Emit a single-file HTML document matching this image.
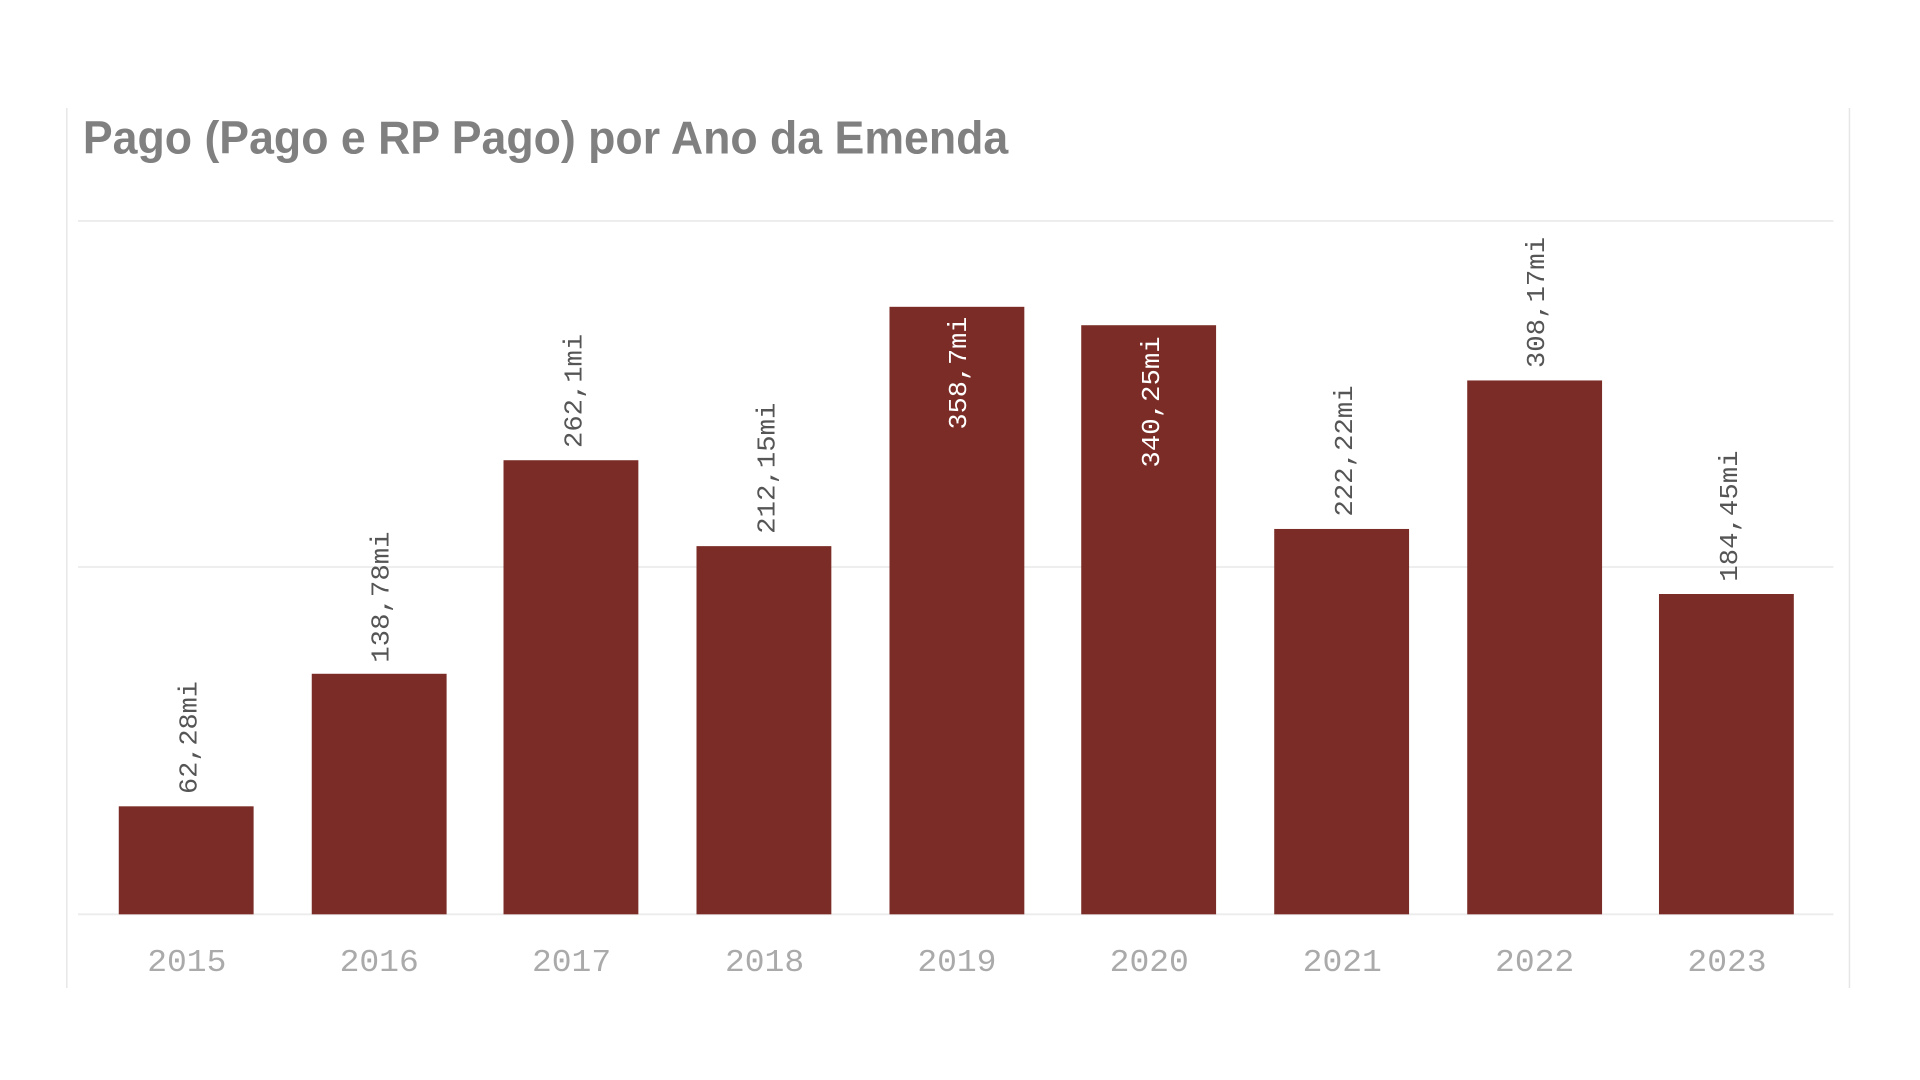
<!DOCTYPE html>
<html><head><meta charset="utf-8"><style>
html,body{margin:0;padding:0;background:#fff;width:1920px;height:1080px;overflow:hidden}
svg{display:block}
</style></head><body>
<svg width="1920" height="1080" viewBox="0 0 1552 880" preserveAspectRatio="none" xmlns="http://www.w3.org/2000/svg">
<rect width="1552" height="880" fill="#fff"/>
<line x1="54" y1="88" x2="54" y2="805" stroke="#e6e6e6" stroke-width="1.2"/>
<line x1="1495" y1="88" x2="1495" y2="805" stroke="#e6e6e6" stroke-width="1.2"/>
<text x="67" y="125" font-family="Liberation Sans, sans-serif" font-weight="bold" font-size="38" fill="#808080" textLength="748" lengthAdjust="spacingAndGlyphs">Pago (Pago e RP Pago) por Ano da Emenda</text>
<g stroke="#ececec" stroke-width="1.5">
<line x1="63" y1="180" x2="1482" y2="180"/>
<line x1="63" y1="462" x2="1482" y2="462"/>
<line x1="63" y1="745" x2="1482" y2="745"/>
</g>
<g fill="#7b2c26">
<rect x="96" y="657" width="109" height="88"/>
<rect x="252" y="549" width="109" height="196"/>
<rect x="407" y="375" width="109" height="370"/>
<rect x="563" y="445" width="109" height="300"/>
<rect x="719" y="250" width="109" height="495"/>
<rect x="874" y="265" width="109" height="480"/>
<rect x="1030" y="431" width="109" height="314"/>
<rect x="1186" y="310" width="109" height="435"/>
<rect x="1341" y="484" width="109" height="261"/>
</g>
<g font-family="Liberation Mono, monospace" font-size="21" fill="#555">
<text transform="translate(159,647) rotate(-90)" textLength="92" lengthAdjust="spacingAndGlyphs">62,28mi</text>
<text transform="translate(314,540) rotate(-90)" textLength="107" lengthAdjust="spacingAndGlyphs">138,78mi</text>
<text transform="translate(470,365) rotate(-90)" textLength="93" lengthAdjust="spacingAndGlyphs">262,1mi</text>
<text transform="translate(626,435) rotate(-90)" textLength="107" lengthAdjust="spacingAndGlyphs">212,15mi</text>
<text transform="translate(781,350) rotate(-90)" fill="#fff" textLength="92" lengthAdjust="spacingAndGlyphs">358,7mi</text>
<text transform="translate(937,381) rotate(-90)" fill="#fff" textLength="107" lengthAdjust="spacingAndGlyphs">340,25mi</text>
<text transform="translate(1093,421) rotate(-90)" textLength="107" lengthAdjust="spacingAndGlyphs">222,22mi</text>
<text transform="translate(1248,300) rotate(-90)" textLength="107" lengthAdjust="spacingAndGlyphs">308,17mi</text>
<text transform="translate(1404,474) rotate(-90)" textLength="107" lengthAdjust="spacingAndGlyphs">184,45mi</text>
</g>
<g font-family="Liberation Mono, monospace" font-size="26" fill="#aaa" text-anchor="middle">
<text x="151" y="791" textLength="64" lengthAdjust="spacingAndGlyphs">2015</text>
<text x="306.5" y="791" textLength="64" lengthAdjust="spacingAndGlyphs">2016</text>
<text x="462" y="791" textLength="64" lengthAdjust="spacingAndGlyphs">2017</text>
<text x="618" y="791" textLength="64" lengthAdjust="spacingAndGlyphs">2018</text>
<text x="773.5" y="791" textLength="64" lengthAdjust="spacingAndGlyphs">2019</text>
<text x="929" y="791" textLength="64" lengthAdjust="spacingAndGlyphs">2020</text>
<text x="1085" y="791" textLength="64" lengthAdjust="spacingAndGlyphs">2021</text>
<text x="1240.5" y="791" textLength="64" lengthAdjust="spacingAndGlyphs">2022</text>
<text x="1396" y="791" textLength="64" lengthAdjust="spacingAndGlyphs">2023</text>
</g>
</svg>
</body></html>
